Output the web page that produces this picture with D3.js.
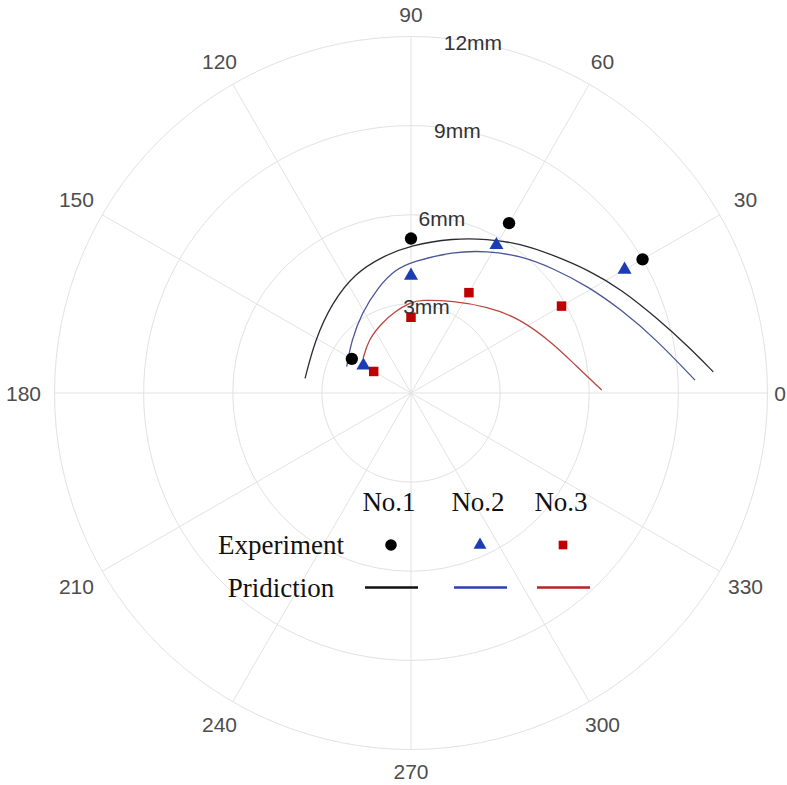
<!DOCTYPE html>
<html>
<head>
<meta charset="utf-8">
<script src="https://cdn.jsdelivr.net/npm/d3@7/dist/d3.min.js"></script>
<style>
  html, body { margin: 0; padding: 0; background: #fff; }
  svg { display: block; }
</style>
</head>
<body>
<script>
// ---------- data ----------
const angleTicks = [0, 30, 60, 90, 120, 150, 180, 210, 240, 270, 300, 330];
const radiusTicks = [3, 6, 9, 12];
const radiusLabels = ["3mm", "6mm", "9mm", "12mm"];
const seriesNames = ["No.1", "No.2", "No.3"];

// experiment points: angle (deg), radius (mm)
const expAngles = [90, 60, 30, 150];
const expNo1 = [5.2, 6.6, 9.0, 2.3];
const expNo2 = [3.95, 5.75, 8.3, 1.85];
const expNo3 = [2.55, 3.9, 5.85, 1.45];

// prediction curves: [angle deg, radius mm]
const predNo1 = [[172.1,3.60],[151.1,3.69],[131.5,4.03],[115.1,4.45],[102.1,4.69],[90,4.98],[74.7,5.40],[63.8,5.78],[53.9,6.23],[44.1,6.67],[34.7,7.27],[26.1,7.90],[17.4,8.61],[9.5,9.47],[4.0,10.20]];
const predNo2 = [[157.8,2.34],[138.2,2.68],[121.7,3.16],[107.1,3.74],[97.4,4.18],[89.7,4.42],[73.3,4.97],[61.9,5.42],[51.6,5.90],[41.2,6.37],[31.0,6.96],[21.5,7.62],[12.6,8.42],[2.6,9.57]];
const predNo3 = [[144.0,1.99],[128.9,2.29],[112.8,2.55],[101,2.80],[90,3.05],[84.5,3.15],[65.3,3.41],[48.7,3.87],[34.4,4.45],[18.4,5.11],[9.7,5.60],[0.9,6.42]];

// ---------- layout ----------
const W = 787, H = 785;
const cx = 411, cy = 393, R = 356.5;

const svg = d3.select("body").append("svg").attr("width", W).attr("height", H);
svg.append("rect").attr("width", W).attr("height", H).attr("fill", "#fff");

const r = d3.scaleLinear().domain([0, 12]).range([0, R]);
const toRad = d => (90 - d) * Math.PI / 180; // d3 radial angle (0 = up, clockwise)
const px = (a, rr) => cx + rr * Math.cos(a * Math.PI / 180);
const py = (a, rr) => cy - rr * Math.sin(a * Math.PI / 180);

const g = svg.append("g").attr("transform", `translate(${cx},${cy})`);
const gridColor = "#e2e2e2";

// rings
g.selectAll("circle.ring").data(radiusTicks).join("circle")
  .attr("class", "ring").attr("r", d => r(d))
  .attr("fill", "none").attr("stroke", gridColor).attr("stroke-width", 1);

// spokes
g.selectAll("line.spoke").data(angleTicks).join("line")
  .attr("class", "spoke")
  .attr("x1", 0).attr("y1", 0)
  .attr("x2", d => R * Math.cos(d * Math.PI / 180))
  .attr("y2", d => -R * Math.sin(d * Math.PI / 180))
  .attr("stroke", gridColor).attr("stroke-width", 1);

// angle labels
svg.selectAll("text.ang").data(angleTicks).join("text")
  .attr("class", "ang")
  .attr("x", d => px(d, R + 22 + 9 * Math.abs(Math.cos(d * Math.PI / 180))))
  .attr("y", d => py(d, R + 22 + 9 * Math.abs(Math.cos(d * Math.PI / 180))))
  .attr("text-anchor", "middle").attr("dominant-baseline", "central")
  .attr("font-family", "Liberation Sans, Arial, sans-serif")
  .attr("font-size", 21).attr("fill", "#4d4d4d")
  .text(d => d)
  .each(function() {
    const b = this.getBBox();
    if (b.x + b.width > W - 1) d3.select(this).attr("x", +d3.select(this).attr("x") - (b.x + b.width - (W - 1)));
  });

// radius labels
svg.selectAll("text.rad").data(radiusTicks).join("text")
  .attr("class", "rad")
  .attr("x", d => px(80, r(d)))
  .attr("y", d => py(80, r(d)) + 1)
  .attr("text-anchor", "middle").attr("dominant-baseline", "central")
  .attr("font-family", "Liberation Sans, Arial, sans-serif")
  .attr("font-size", 21).attr("fill", "#333")
  .text((d, i) => radiusLabels[i]);

// prediction curves
const line = d3.lineRadial()
  .angle(d => toRad(d[0]))
  .radius(d => r(d[1]))
  .curve(d3.curveBasis);

const curveColors = ["#2a2a35", "#4a5596", "#b9473f"];
[predNo1, predNo2, predNo3].forEach((p, i) => {
  g.append("path").attr("d", line(p))
    .attr("fill", "none").attr("stroke", curveColors[i]).attr("stroke-width", 1.3);
});

// experiment markers
const markColors = ["#000000", "#1c3cb4", "#c00000"];
const circleSym = d3.symbol().type(d3.symbolCircle).size(120);
const triSym = d3.symbol().type(d3.symbolTriangle).size(85);
const sqSym = d3.symbol().type(d3.symbolSquare).size(90);
const syms = [circleSym, triSym, sqSym];

[expNo1, expNo2, expNo3].forEach((vals, i) => {
  g.selectAll(null).data(vals).join("path")
    .attr("d", syms[i]())
    .attr("transform", (v, j) => {
      const a = expAngles[j] * Math.PI / 180;
      return `translate(${r(v) * Math.cos(a)},${-r(v) * Math.sin(a)})`;
    })
    .attr("fill", markColors[i]);
});

// legend
const legFont = "Liberation Serif, Times New Roman, serif";
const colX = [389, 478, 561];
const lg = svg.append("g");
lg.selectAll("text.hd").data(seriesNames).join("text")
  .attr("x", (d, i) => colX[i]).attr("y", 502)
  .attr("text-anchor", "middle").attr("dominant-baseline", "central")
  .attr("font-family", legFont).attr("font-size", 27).attr("fill", "#111")
  .text(d => d);
lg.append("text").attr("x", 281).attr("y", 545)
  .attr("text-anchor", "middle").attr("dominant-baseline", "central")
  .attr("font-family", legFont).attr("font-size", 27).attr("fill", "#111")
  .text("Experiment");
lg.append("text").attr("x", 281).attr("y", 588)
  .attr("text-anchor", "middle").attr("dominant-baseline", "central")
  .attr("font-family", legFont).attr("font-size", 27).attr("fill", "#111")
  .text("Pridiction");
const legSym = [d3.symbol().type(d3.symbolCircle).size(105), d3.symbol().type(d3.symbolTriangle).size(72), d3.symbol().type(d3.symbolSquare).size(75)];
const legLineColors = ["#111111", "#2b3fae", "#b52525"];
const legSymX = [391, 480, 563];
seriesNames.forEach((s, i) => {
  lg.append("path").attr("d", legSym[i]())
    .attr("transform", `translate(${legSymX[i]},${545})`)
    .attr("fill", markColors[i]);
  lg.append("line")
    .attr("x1", legSymX[i] - 26).attr("x2", legSymX[i] + 27)
    .attr("y1", 587.5).attr("y2", 587.5)
    .attr("stroke", legLineColors[i]).attr("stroke-width", 2.6);
});
</script>
</body>
</html>
